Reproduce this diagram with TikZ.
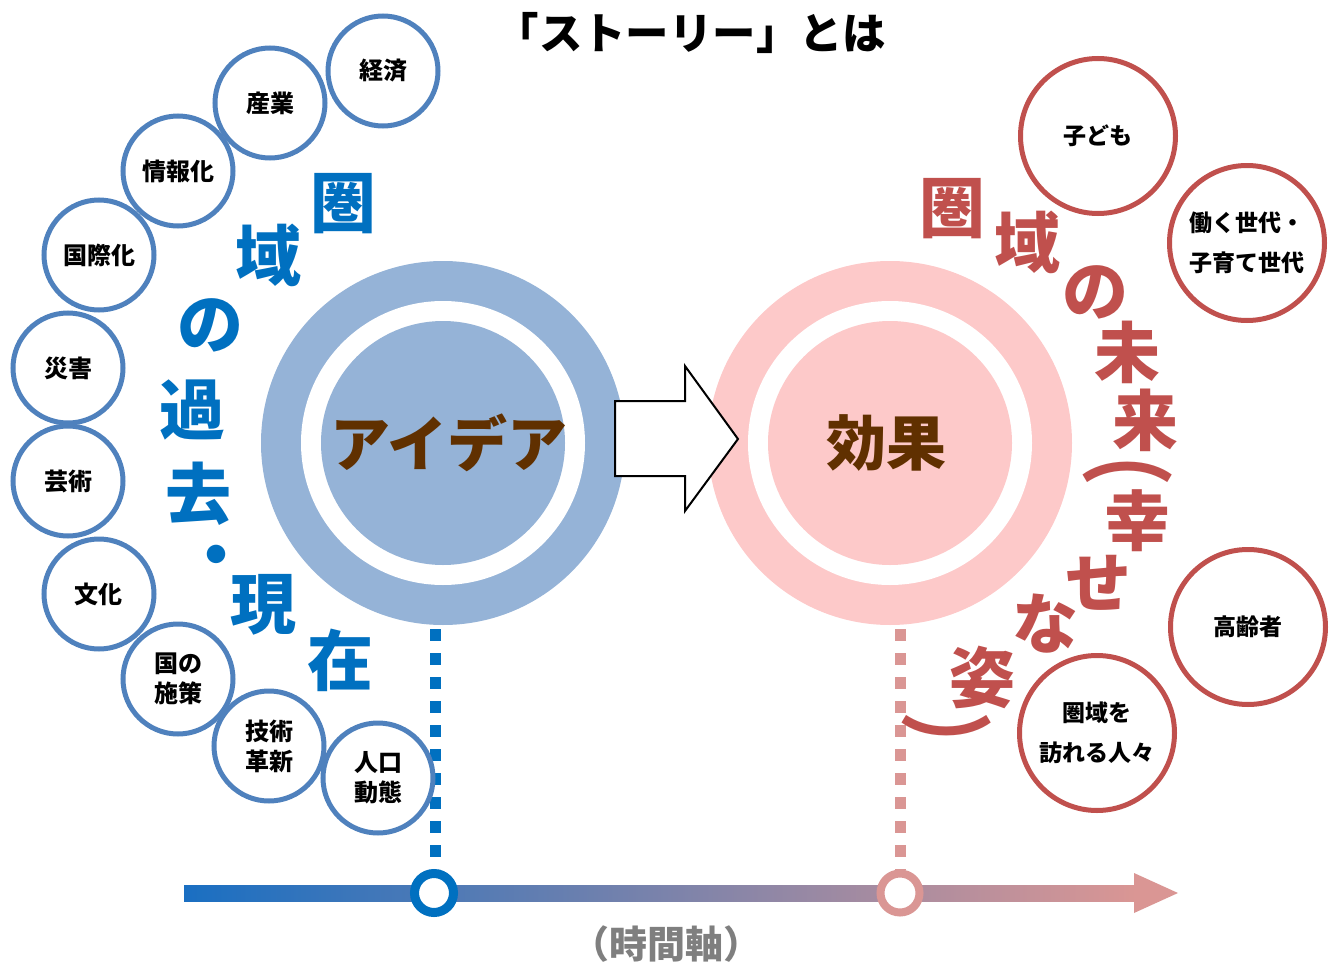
\documentclass[tikz,border=0pt]{standalone}
\usepackage{fontspec}
\setmainfont{Noto Sans CJK JP}
\definecolor{ringblue}{HTML}{95B3D7}
\definecolor{circblue}{HTML}{4F81BD}
\definecolor{textblue}{HTML}{0070C0}
\definecolor{ringpink}{HTML}{FDC9C9}
\definecolor{circred}{HTML}{C0504D}
\definecolor{ideabrown}{HTML}{603000}
\definecolor{dashpink}{HTML}{DA9694}
\definecolor{axisblue}{HTML}{1A6FC2}
\definecolor{axismid}{HTML}{8780B0}
\definecolor{axisgray}{HTML}{7F7F7F}
\tikzset{
  lcirc/.style={circle, draw=circblue, line width=2.5pt, fill=white, minimum size=55pt, inner sep=0pt, align=center, font=\bfseries\fontsize{12}{15}\selectfont},
  rcirc/.style={circle, draw=circred, line width=2.5pt, fill=white, minimum size=77.5pt, inner sep=0pt, align=center, font=\bfseries\fontsize{11.5}{20}\selectfont},
  bch/.style={text=textblue, font=\bfseries\fontsize{33}{33}\selectfont, inner sep=0pt},
  rch/.style={text=circred, font=\bfseries\fontsize{33}{33}\selectfont, inner sep=0pt},
  rparen/.style={rch, rotate=-90, yscale=1.4},
  core/.style={circle, inner sep=0pt, text=ideabrown, font=\bfseries\fontsize{30}{30}\selectfont},
  bluedash/.style={draw=textblue, line width=5.5pt, dash pattern=on 6pt off 6pt},
  pinkdash/.style={draw=dashpink, line width=5.5pt, dash pattern=on 6pt off 6pt},
  marker/.style={circle, fill=white, inner sep=0pt, minimum size=19.5pt},
  blockarrow/.style={draw=black, line width=1pt, fill=white, line join=miter}
}
\begin{document}
\begin{tikzpicture}[x=0.5pt,y=-0.5pt]
\useasboundingbox (0,0) rectangle (1335,969);
% title
\node[font=\bfseries\fontsize{21.7}{21.7}\selectfont, inner sep=0pt] (title) at (691,33) {「ストーリー」とは};
% big blue circle
\fill[ringblue] (443,443) circle[radius=91pt];
\fill[white] (443,443) circle[radius=71pt];
\node[core, fill=ringblue, minimum size=122pt] (idea) at (443,443) {};
\node[core] (ideatext) at (449,443) {アイデア};
% big pink circle
\fill[ringpink] (890,443) circle[radius=91pt];
\fill[white] (890,443) circle[radius=71pt];
\node[core, fill=ringpink, minimum size=122pt] (effect) at (890,443) {};
\node[core] (effecttext) at (886,443) {効果};
% block arrow
\draw[blockarrow] (615,401) -- (685,401) -- (685,366) -- (738,439) -- (685,511) -- (685,476) -- (615,476) -- cycle;
% time axis
\shade[left color=axisblue, middle color=axismid, right color=dashpink] (184,885) rectangle (1136,901);
\fill[dashpink] (1134,873) -- (1178,893) -- (1134,913) -- cycle;
\node[marker, draw=textblue, line width=4.5pt] (m1) at (434,893) {};
\node[marker, draw=dashpink, line width=4pt] (m2) at (900,893) {};
\coordinate (bt) at (435,629);
\coordinate (pt) at (900,629);
\draw[bluedash] (bt) -- (bt |- m1.north);
\draw[pinkdash] (pt) -- (pt |- m2.north);
\node[text=axisgray, font=\bfseries\fontsize{19}{19}\selectfont, inner sep=0pt] (axislabel) at (666,944) {（時間軸）};
% left circles
\node[lcirc] (c1) at (383,71) {経済};
\node[lcirc] (c2) at (270,103) {産業};
\node[lcirc] (c3) at (178,171) {情報化};
\node[lcirc] (c4) at (99,255) {国際化};
\node[lcirc] (c5) at (68,368) {災害};
\node[lcirc] (c6) at (68,481) {芸術};
\node[lcirc] (c7) at (99,594) {文化};
\node[lcirc] (c8) at (178,679) {国の\\施策};
\node[lcirc] (c9) at (269,746) {技術\\革新};
\node[lcirc] (c10) at (378,778) {人口\\動態};
% left arc text
\node[bch] (b1) at (343,204) {圏};
\node[bch] (b2) at (268,255) {域};
\node[bch] (b3) at (210,325) {の};
\node[bch] (b4) at (192,410) {過};
\node[bch] (b5) at (198,494) {去};
\node[bch] (b6) at (216,562) {・};
\node[bch] (b7) at (263,605) {現};
\node[bch] (b8) at (340,660) {在};
% right circles
\node[rcirc] (r1) at (1098,136) {子ども};
\node[rcirc] (r2) at (1247,243) {働く世代・\\子育て世代};
\node[rcirc] (r3) at (1248,627) {高齢者};
\node[rcirc] (r4) at (1097,733) {圏域を\\訪れる人々};
% right arc text
\node[rch] (t1) at (952,209) {圏};
\node[rch] (t2) at (1027,242) {域};
\node[rch] (t3) at (1095,292) {の};
\node[rch] (t4) at (1127,352) {未};
\node[rch] (t5) at (1145,420) {来};
\node[rparen] (t6) at (1128,452) {（};
\node[rch] (t7) at (1137,521) {幸};
\node[rch] (t8) at (1098,583) {せ};
\node[rch] (t9) at (1045,624) {な};
\node[rch] (t10) at (982,677) {姿};
\node[rparen] (t11) at (947,745) {）};
\end{tikzpicture}
\end{document}
